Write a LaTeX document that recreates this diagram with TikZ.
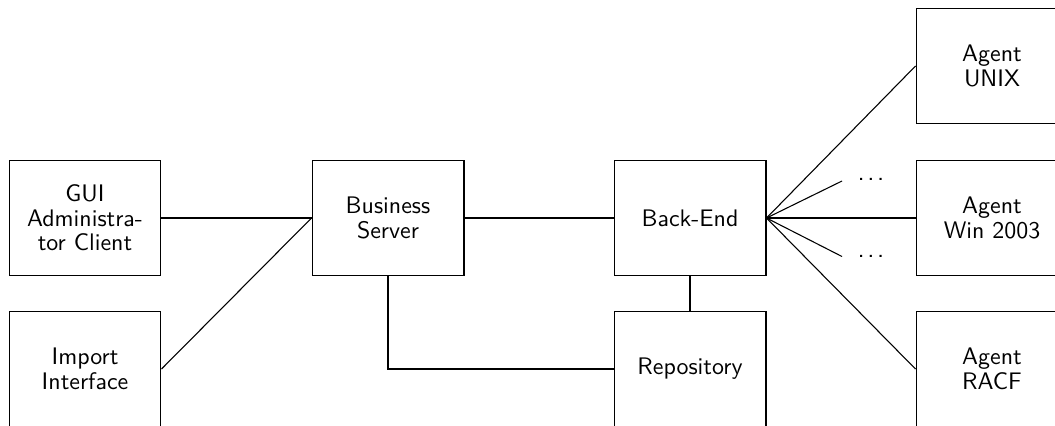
\documentclass[tikz,border=0pt]{standalone}
\begin{document}
\begin{tikzpicture}[x=0.418pt,y=-0.418pt,
  box/.style={draw,line width=0.45pt,minimum width=63.5pt,minimum height=47.7pt,inner sep=0pt,align=center,font=\sffamily\fontsize{10}{10.25}\selectfont},
  dotsnode/.style={inner sep=0pt,font=\sffamily\fontsize{11}{11}\selectfont},
  conn/.style={line width=0.45pt}]
\useasboundingbox (0,0) rectangle (1055,425.6);
\node[box] (gui) at (85,218) {GUI\\Administra-\\tor Client};
\node[box] (imp) at (85,369) {Import\\Interface};
\node[box] (bus) at (388,218) {Business\\Server};
\node[box] (be) at (690,218) {Back-End};
\node[box] (rep) at (690,369) {Repository};
\node[box] (unix) at (992,66) {Agent\\UNIX};
\node[box] (win) at (992,218) {Agent\\Win 2003};
\node[box] (racf) at (992,369) {Agent\\RACF};
\node[dotsnode] (d1) at (871,179.5) {.\kern1.1pt.\kern1.1pt.};
\node[dotsnode] (d2) at (871,256) {.\kern1.1pt.\kern1.1pt.};
\coordinate (e1) at (842,181);
\coordinate (e2) at (842,256.5);
\draw[conn] (gui.east) -- (bus.west);
\draw[conn] (imp.east) -- (bus.west);
\draw[conn] (bus.east) -- (be.west);
\draw[conn] (bus.south) |- (rep.west);
\draw[conn] (be.south) -- (rep.north);
\draw[conn] (be.east) -- (unix.west);
\draw[conn] (be.east) -- (win.west);
\draw[conn] (be.east) -- (racf.west);
\draw[conn] (be.east) -- (e1);
\draw[conn] (be.east) -- (e2);
\end{tikzpicture}
\end{document}
